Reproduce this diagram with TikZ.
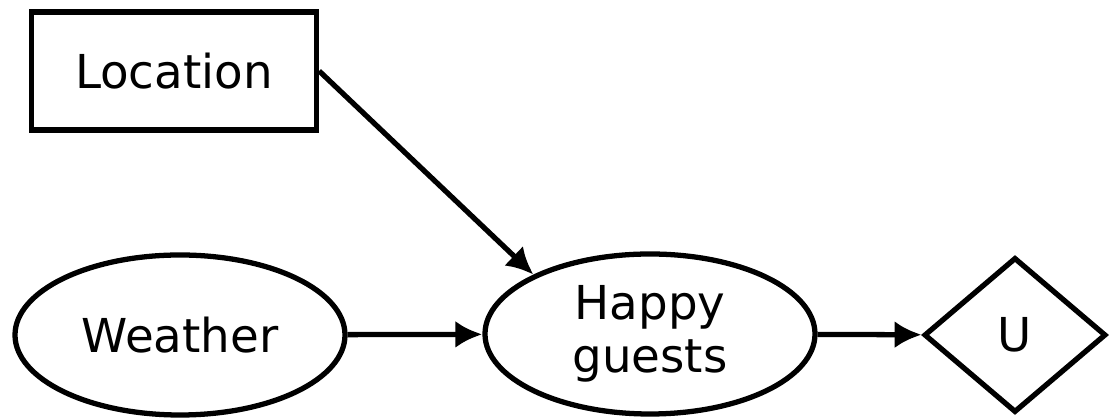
\documentclass[tikz,border=0pt]{standalone}
\usepackage{fontspec}
\setmainfont{DejaVu Sans}
\usetikzlibrary{shapes.geometric,arrows.meta}
\begin{document}
\begin{tikzpicture}[every node/.style={font=\fontsize{13.3}{15}\selectfont},
        chance/.style={draw,ellipse,line width=1.5pt,minimum width=3.3cm,minimum height=1.6cm,inner sep=0pt,align=center},
        decision/.style={draw,rectangle,line width=1.5pt,minimum width=2.85cm,minimum height=1.18cm},
        utility/.style={draw,diamond,line width=1.5pt,minimum width=1.82cm,minimum height=1.55cm,inner sep=0pt},
        link/.style={-{Latex[length=2.7mm,width=2.7mm]},line width=1.5pt}]
        \useasboundingbox (0,0) rectangle (11.11,4.19);
        \node[decision](location)at(1.74,3.48){Location};
        \node[chance](weather)at(1.80,0.84){Weather};
        \node[chance](happy)at(6.50,0.85){Happy\\guests};
        \node[utility](u)at(10.15,0.84){U};
        \draw[link](location.east)--(happy.153);
        \draw[link](weather)--(happy);
        \draw[link](happy)--(u);
    \end{tikzpicture}
\end{document}
